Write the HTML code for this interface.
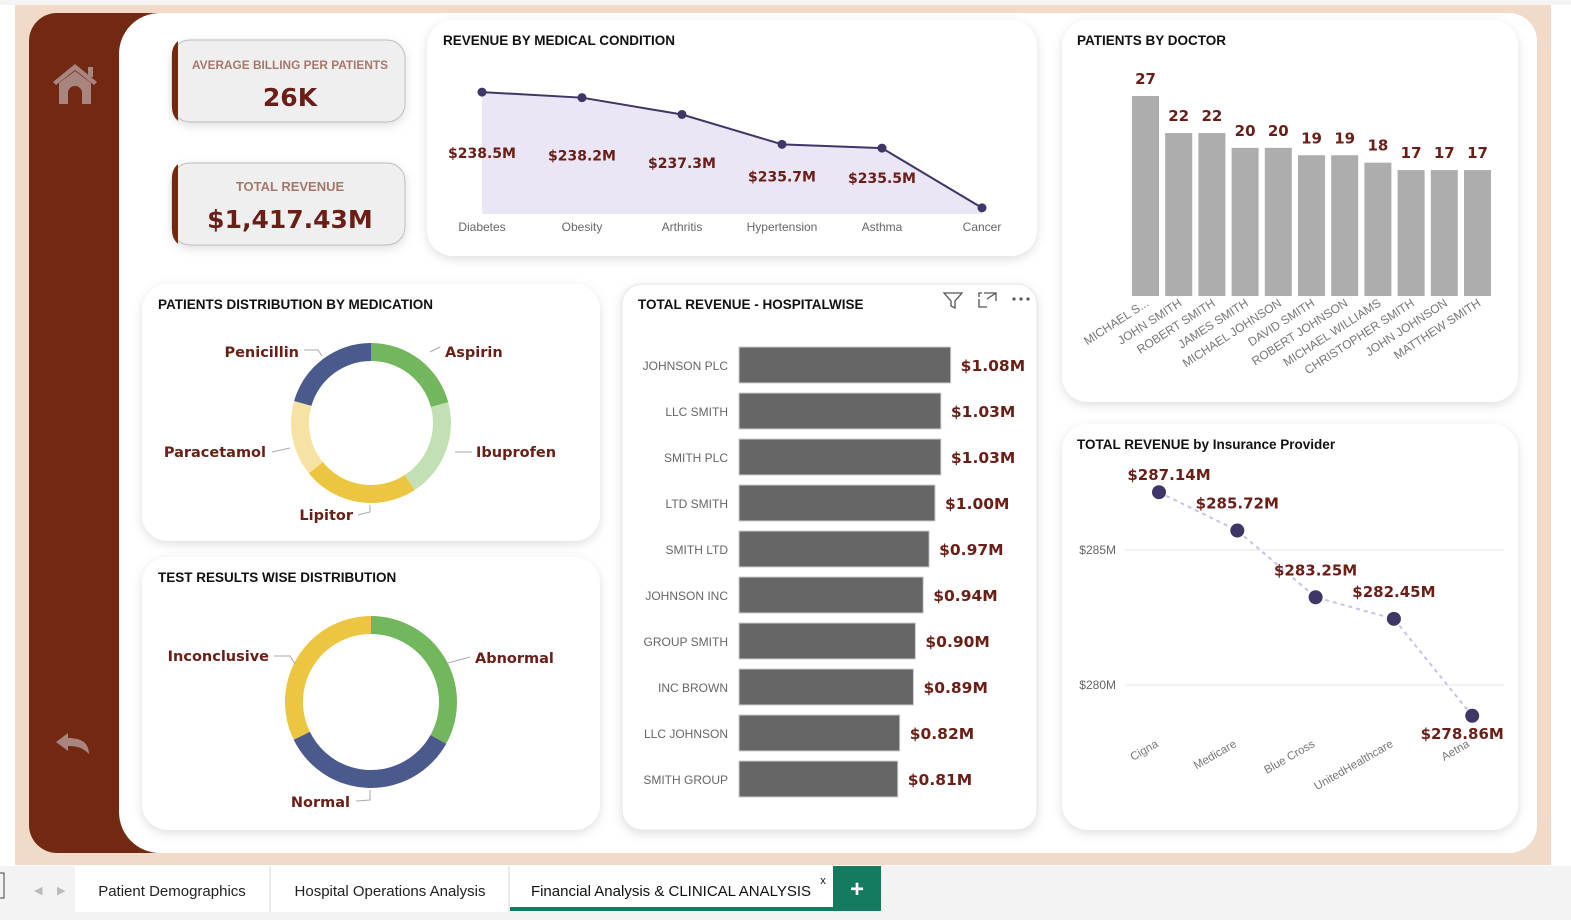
<!DOCTYPE html>
<html><head><meta charset="utf-8"><style>
html,body{margin:0;padding:0;width:1571px;height:920px;overflow:hidden;background:#fff;font-family:"Liberation Sans",sans-serif}
svg{display:block}
.t{font-family:"Liberation Sans",sans-serif}
.title{font-weight:bold;font-size:13.5px;fill:#111}
.lbl{font-family:"DejaVu Sans","Liberation Sans",sans-serif;font-weight:bold;fill:#6b1e16}
.ax{font-size:12px;fill:#666}
</style></head><body>
<svg id="s" width="1571" height="920" viewBox="0 0 1571 920" xmlns="http://www.w3.org/2000/svg">
<defs>
<filter id="sh" x="-10%" y="-10%" width="120%" height="130%"><feDropShadow dx="0" dy="3" stdDeviation="5" flood-color="#000" flood-opacity="0.13"/></filter>
</defs>
<rect x="0" y="0" width="1571" height="5" fill="#f4f4f4"/>
<rect x="15" y="5" width="1536" height="860" fill="#f1dac7"/>
<rect x="29" y="13" width="160" height="840" rx="28" fill="#722811"/>
<path d="M160 13 H1509 a28 28 0 0 1 28 28 V825 a28 28 0 0 1 -28 28 H160 a41 41 0 0 1 -41 -41 V54 a41 41 0 0 1 41 -41Z" fill="#fff"/>
<g fill="#a98580">
<path d="M53 82 L75 64 L97 82 L94 85 L75 70 L56 85Z"/><path d="M59 83 L75 71 L91 83 V104 H82 V93 a7 7 0 0 0 -14 0 V104 H59Z"/><rect x="88" y="67" width="5" height="10"/>
</g>
<path d="M89 754 C89 742 80 738 68 738 V733 L56 742 L68 751 V746 C78 746 83 748 89 754Z" fill="#a98580"/>

<g>
<rect x="172" y="40" width="233" height="82" rx="18" fill="#efefef" stroke="#bdbdbd" filter="url(#sh)"/>
<path d="M178 41 a18 18 0 0 0 -6 14 V108 a18 18 0 0 0 6 13Z" fill="#722811"/>
<text x="290" y="69" text-anchor="middle" class="t" font-size="12" font-weight="bold" fill="#a8776b" textLength="196" lengthAdjust="spacingAndGlyphs">AVERAGE BILLING PER PATIENTS</text>
<text x="290" y="106" text-anchor="middle" class="lbl" font-size="25">26K</text>
</g>
<g>
<rect x="172" y="163" width="233" height="82" rx="18" fill="#efefef" stroke="#bdbdbd" filter="url(#sh)"/>
<path d="M178 164 a18 18 0 0 0 -6 14 V231 a18 18 0 0 0 6 13Z" fill="#722811"/>
<text x="290" y="191" text-anchor="middle" class="t" font-size="13" font-weight="bold" fill="#a8776b">TOTAL REVENUE</text>
<text x="290" y="228" text-anchor="middle" class="lbl" font-size="25">$1,417.43M</text>
</g>

<rect x="427" y="20" width="610" height="236" rx="26" fill="#fff" filter="url(#sh)"/>
<rect x="1062" y="20" width="456" height="382" rx="26" fill="#fff" filter="url(#sh)"/>
<rect x="142" y="284" width="458" height="257" rx="26" fill="#fff" filter="url(#sh)"/>
<rect x="142" y="557" width="458" height="273" rx="26" fill="#fff" filter="url(#sh)"/>
<rect x="622" y="284" width="415" height="546" rx="20" fill="#fff" stroke="#e6e6e6" filter="url(#sh)"/>
<rect x="1062" y="424" width="456" height="406" rx="26" fill="#fff" filter="url(#sh)"/>

<text x="443" y="45" class="t title">REVENUE BY MEDICAL CONDITION</text>
<text x="1077" y="45" class="t title">PATIENTS BY DOCTOR</text>
<text x="158" y="309" class="t title">PATIENTS DISTRIBUTION BY MEDICATION</text>
<text x="158" y="582" class="t title">TEST RESULTS WISE DISTRIBUTION</text>
<text x="638" y="309" class="t title">TOTAL REVENUE - HOSPITALWISE</text>
<text x="1077" y="449" class="t title">TOTAL REVENUE by Insurance Provider</text>

<g fill="none" stroke="#555" stroke-width="1.3"><path d="M944 293 H962 L955 301 V308 L951 306 V301Z"/></g>
<g fill="none" stroke="#555" stroke-width="1.3"><path d="M979 299 V307 H987 M984 293 H996 V301 M987 299 L996 293"/><path d="M979 297 V293 H982"/></g>
<g fill="#555"><circle cx="1014" cy="299" r="1.6"/><circle cx="1021" cy="299" r="1.6"/><circle cx="1028" cy="299" r="1.6"/></g>

<g id="g-cond"></g><g id="g-doc"></g><g id="g-med"></g><g id="g-test"></g><g id="g-hosp"></g><g id="g-ins"></g>

<rect x="0" y="866" width="1571" height="54" fill="#f3f3f3"/>
<rect x="-4" y="873" width="8" height="25" fill="none" stroke="#444"/>
<text x="34" y="894" font-size="11" fill="#bbb">◀</text>
<text x="57" y="894" font-size="11" fill="#bbb">▶</text>
<rect x="75" y="866" width="195" height="46" fill="#fff"/>
<line x1="270" y1="866" x2="270" y2="912" stroke="#ddd"/>
<text x="172" y="896" text-anchor="middle" class="t" font-size="15" fill="#222">Patient Demographics</text>
<rect x="271" y="866" width="238" height="46" fill="#fff"/>
<text x="390" y="896" text-anchor="middle" class="t" font-size="15" fill="#222">Hospital Operations Analysis</text>
<line x1="509" y1="866" x2="509" y2="912" stroke="#ddd"/>
<rect x="510" y="866" width="323" height="46" fill="#fff"/>
<rect x="510" y="907" width="323" height="4" fill="#147a60"/>
<text x="671" y="896" text-anchor="middle" class="t" font-size="15" fill="#111">Financial Analysis &amp; CLINICAL ANALYSIS</text>
<text x="823" y="884" text-anchor="middle" class="t" font-size="11" fill="#111">x</text>
<rect x="833" y="866" width="48" height="45" fill="#147a60"/>
<text x="857" y="897" text-anchor="middle" class="t" font-size="24" font-weight="bold" fill="#fff">+</text>
</svg>
<script>
const NS='http://www.w3.org/2000/svg';
function mk(p,tag,a,txt){const e=document.createElementNS(NS,tag);for(const k in a)e.setAttribute(k,a[k]);if(txt!==undefined)e.textContent=txt;p.appendChild(e);return e;}

const condCats=['Diabetes','Obesity','Arthritis','Hypertension','Asthma','Cancer'];
const condVals=[238.5,238.2,237.3,235.7,235.5,232.3];
const condLabels=['$238.5M','$238.2M','$237.3M','$235.7M','$235.5M',''];
const docNames=['MICHAEL S...','JOHN SMITH','ROBERT SMITH','JAMES SMITH','MICHAEL JOHNSON','DAVID SMITH','ROBERT JOHNSON','MICHAEL WILLIAMS','CHRISTOPHER SMITH','JOHN JOHNSON','MATTHEW SMITH'];
const docVals=[27,22,22,20,20,19,19,18,17,17,17];
const medCats=['Aspirin','Ibuprofen','Lipitor','Paracetamol','Penicillin'];
const medVals=[75,72,84,55,74];
const medColors=['#72b65e','#c3e0b4','#ecc640','#f6e3a3','#4a5a8c'];
const testCats=['Abnormal','Normal','Inconclusive'];
const testVals=[119,125,116];
const testColors=['#72b65e','#4a5a8c','#ecc640'];
const hospCats=['JOHNSON PLC','LLC SMITH','SMITH PLC','LTD SMITH','SMITH LTD','JOHNSON INC','GROUP SMITH','INC BROWN','LLC JOHNSON','SMITH GROUP'];
const hospVals=[1.08,1.03,1.03,1.00,0.97,0.94,0.90,0.89,0.82,0.81];
const insCats=['Cigna','Medicare','Blue Cross','UnitedHealthcare','Aetna'];
const insVals=[287.14,285.72,283.25,282.45,278.86];
const insTicks=[285,280];

(function(){
 const g=document.getElementById('g-cond');
 const x=i=>482+i*100, y=v=>214-(v-231.97)*18.67;
 let d='M'+x(0)+' 214';condVals.forEach((v,i)=>d+=' L'+x(i)+' '+y(v));d+=' L'+x(condVals.length-1)+' 214Z';
 const a=mk(g,'path',{d:d,fill:'#ebe6f6'});
 
 const l=mk(g,'polyline',{points:condVals.map((v,i)=>x(i)+','+y(v)).join(' '),fill:'none',stroke:'#3f3566','stroke-width':2});
 
 condVals.forEach((v,i)=>{
  const c=mk(g,'circle',{cx:x(i),cy:y(v),r:4.5,fill:'#3f3566'});
  
  if(condLabels[i]){const t=mk(g,'text',{x:x(i),y:y(v)+66-(y(v)-92)*0.55,'text-anchor':'middle',class:'lbl','font-size':14},condLabels[i]);
   }
  const t2=mk(g,'text',{x:x(i),y:231,'text-anchor':'middle',class:'t ax'},condCats[i]);
  
 });
})();

(function(){
 const g=document.getElementById('g-doc');
 const base=296,sc=200/27,x=i=>1132+i*33.2,w=27;
 docVals.forEach((v,i)=>{
  const r=mk(g,'rect',{x:x(i),y:base-v*sc,width:w,height:v*sc,fill:'#adadad'});
  
  const t=mk(g,'text',{x:x(i)+w/2,y:base-v*sc-12,'text-anchor':'middle',class:'lbl','font-size':15},String(v));
  
  const cx=x(i)+w/2+4;
  const n=mk(g,'text',{x:cx,y:305,'text-anchor':'end',class:'t',fill:'#777','font-size':12,transform:'rotate(-33 '+cx+' 305)'},docNames[i]);
  
 });
})();

function donut(gid,cats,vals,cols,cx,cy,R,r,labelPos,nm){
 const g=document.getElementById(gid);
 const tot=vals.reduce((a,b)=>a+b,0);let a0=0;
 vals.forEach((v,i)=>{
  const a1=a0+v/tot*2*Math.PI;
  const p=(rr,a)=>[cx+rr*Math.sin(a),cy-rr*Math.cos(a)];
  const [x1,y1]=p(R,a0),[x2,y2]=p(R,a1),[x3,y3]=p(r,a1),[x4,y4]=p(r,a0);
  const lg=(a1-a0)>Math.PI?1:0;
  const s=mk(g,'path',{d:`M${x1} ${y1} A${R} ${R} 0 ${lg} 1 ${x2} ${y2} L${x3} ${y3} A${r} ${r} 0 ${lg} 0 ${x4} ${y4}Z`,fill:cols[i]});
  
  const lp=labelPos[i];
  const ln=mk(g,'path',{d:lp.line,fill:'none',stroke:'#aaa'});
  
  const t=mk(g,'text',{x:lp.x,y:lp.y,'text-anchor':lp.a,class:'lbl','font-size':14.5},cats[i]);
  
  a0=a1;
 });
}
donut('g-med',medCats,medVals,medColors,371,423,80,62,[
 {x:445,y:357,a:'start',line:'M430 352 L440 347'},
 {x:476,y:457,a:'start',line:'M455 452 L472 452'},
 {x:353,y:520,a:'end',line:'M358 515 L370 512 L370 505'},
 {x:266,y:457,a:'end',line:'M272 452 L290 448'},
 {x:299,y:357,a:'end',line:'M304 350 L318 350 L322 356'}
],'medication');
donut('g-test',testCats,testVals,testColors,371,702,86,68,[
 {x:475,y:663,a:'start',line:'M448 663 L470 657'},
 {x:350,y:807,a:'end',line:'M356 801 L370 800 L370 790'},
 {x:269,y:661,a:'end',line:'M274 656 L290 656 L295 664'}
],'test');

(function(){
 const g=document.getElementById('g-hosp');
 const x0=739,sc=196,yc=i=>365+i*46;
 hospVals.forEach((v,i)=>{
  const r=mk(g,'rect',{x:x0,y:yc(i)-18,width:v*sc,height:36,fill:'#666',stroke:'#ccc','stroke-width':1});
  
  const c=mk(g,'text',{x:728,y:yc(i)+5,'text-anchor':'end',class:'t ax'},hospCats[i]);
  
  const t=mk(g,'text',{x:x0+v*sc+10,y:yc(i)+6,class:'lbl','font-size':15.5},'$'+v.toFixed(2)+'M');
  
 });
})();

(function(){
 const g=document.getElementById('g-ins');
 const x=i=>1159+i*78.3, y=v=>685-(v-280)*27;
 insTicks.forEach(tv=>{
  const l=mk(g,'line',{x1:1125,x2:1504,y1:y(tv),y2:y(tv),stroke:'#e4e4e4'});
  
  const t=mk(g,'text',{x:1116,y:y(tv)+4,'text-anchor':'end',class:'t ax','font-size':11},'$'+tv+'M');
  
 });
 const l=mk(g,'polyline',{points:insVals.map((v,i)=>x(i)+','+y(v)).join(' '),fill:'none',stroke:'#c9c0ea','stroke-width':2,'stroke-dasharray':'4 4'});
 
 const off=[[10,-12],[0,-22],[0,-22],[0,-22],[-10,23]];
 insVals.forEach((v,i)=>{
  const c=mk(g,'circle',{cx:x(i),cy:y(v),r:7,fill:'#3f3566'});
  
  const t=mk(g,'text',{x:x(i)+off[i][0],y:y(v)+off[i][1],'text-anchor':'middle',class:'lbl','font-size':15},'$'+v.toFixed(2)+'M');
  
  const cx=x(i)+(i==4?-2:0);
  const n=mk(g,'text',{x:cx,y:746,'text-anchor':'end',class:'t',fill:'#777','font-size':11.5,transform:'rotate(-30 '+cx+' 746)'},insCats[i]);
  
 });
})();
</script>
</body></html>
